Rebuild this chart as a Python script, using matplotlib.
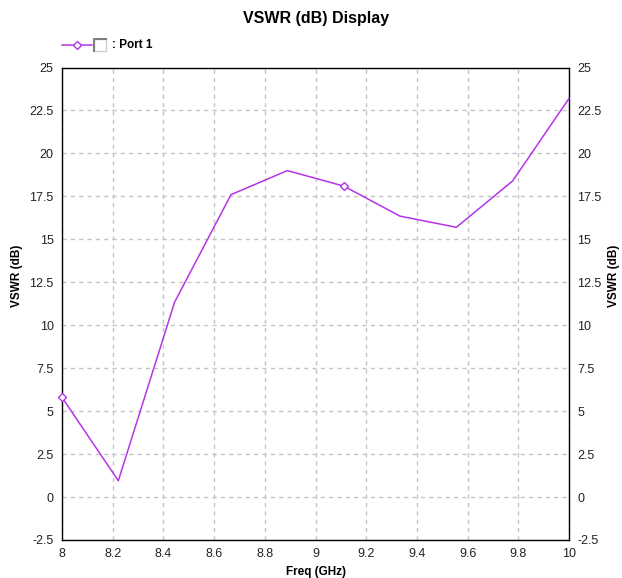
import matplotlib
matplotlib.use("Agg")
import matplotlib.pyplot as plt
from matplotlib.lines import Line2D
from matplotlib.patches import Rectangle

plt.rcParams['font.family'] = ['Liberation Sans', 'DejaVu Sans']

freq = [8.0, 8.2222, 8.4444, 8.6667, 8.8889, 9.1111, 9.3333, 9.5556, 9.7778, 10.0]
vswr = [5.8, 0.95, 11.35, 17.6, 19.0, 18.1, 16.35, 15.7, 18.4, 23.2]
marker_idx = [0, 5]
xticks = [8, 8.2, 8.4, 8.6, 8.8, 9, 9.2, 9.4, 9.6, 9.8, 10]
xtick_labels = ['8', '8.2', '8.4', '8.6', '8.8', '9', '9.2', '9.4', '9.6', '9.8', '10']
yticks = [-2.5, 0, 2.5, 5, 7.5, 10, 12.5, 15, 17.5, 20, 22.5, 25]
ytick_labels = ['-2.5', '0', '2.5', '5', '7.5', '10', '12.5', '15', '17.5', '20', '22.5', '25']

color = '#B535E6'

fig = plt.figure(figsize=(6.22, 5.78), dpi=100)
ax = fig.add_axes([62/622, 38/578, (569-62)/622, (540-67.5)/578])

ax.plot(freq, vswr, color=color, lw=1.1, marker='D', markersize=4.5,
        markerfacecolor='white', markeredgecolor=color, markeredgewidth=1.0,
        markevery=marker_idx, zorder=3, clip_on=False)

ax.set_xlim(8, 10)
ax.set_ylim(-2.5, 25)
ax.set_xticks(xticks)
ax.set_xticklabels(xtick_labels)
ax.set_yticks(yticks)
ax.set_yticklabels(ytick_labels)
ax.tick_params(length=0, labelsize=9, colors='#222222', pad=6)
ax.tick_params(axis='y', labelleft=True, labelright=True)
ax.grid(True, color='#C4C4C4', linestyle=(0, (3, 3)), lw=1.0)
for s in ax.spines.values():
    s.set_color('black')
    s.set_linewidth(1.0)

ax.set_xlabel('Freq (GHz)', fontsize=8.5, fontweight='bold', labelpad=4)
fig.text(17/622, 1 - 276/578, 'VSWR (dB)', rotation=90, fontsize=8.5, fontweight='bold',
         ha='center', va='center')
fig.text(614/622, 1 - 276/578, 'VSWR (dB)', rotation=90, fontsize=8.5, fontweight='bold',
         ha='center', va='center')

fig.text(316/622, 1 - 18/578, 'VSWR (dB) Display', fontsize=11.5, fontweight='bold',
         ha='center', va='center')

# legend
ly = 1 - 45/578
fig.add_artist(Line2D([62/622, 92/622], [ly, ly], color=color, lw=1.1,
                      transform=fig.transFigure))
fig.add_artist(Line2D([77/622], [ly], color=color, marker='D', markersize=4.5,
                      markerfacecolor='white', markeredgecolor=color,
                      transform=fig.transFigure))
bw, bh = 12/622, 12/578
fig.add_artist(Rectangle((94/622, ly - bh/2), bw, bh, facecolor='white', edgecolor='#D0D0D0',
                         lw=1, transform=fig.transFigure))
fig.add_artist(Line2D([94/622, 94/622, 106/622], [ly - bh/2, ly + bh/2, ly + bh/2],
                      color='#808080', lw=1.5, transform=fig.transFigure))
fig.text(112/622, ly, ': Port 1', fontsize=8.5, fontweight='bold', ha='left', va='center')

fig.savefig('out.png', dpi=100)
